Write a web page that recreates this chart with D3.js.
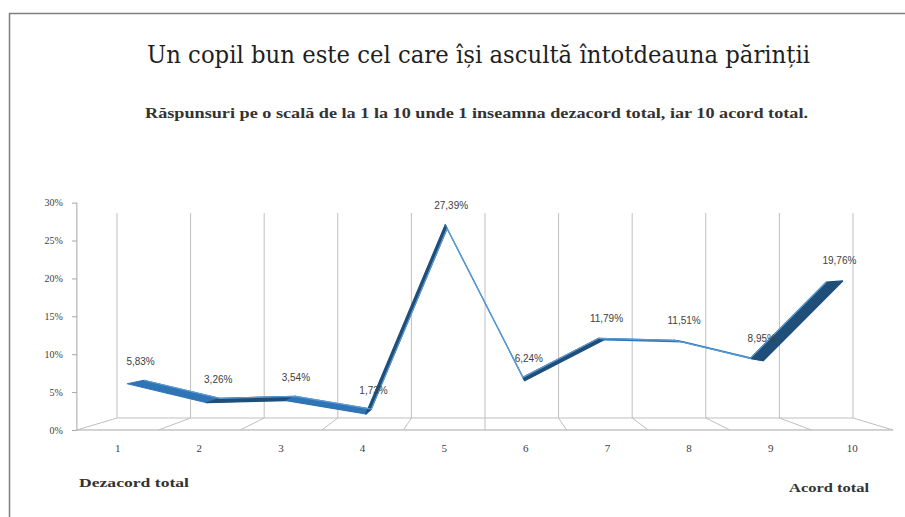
<!DOCTYPE html>
<html>
<head>
<meta charset="utf-8">
<script src="https://cdn.jsdelivr.net/npm/d3@7"></script>
<style>
  body { margin: 0; background: #fff; }
  svg { display: block; }
  .tick text { font-family: "Liberation Serif", serif; fill: #404040; }
</style>
</head>
<body>
<div id="chart"></div>
<script>
var categories = ["1", "2", "3", "4", "5", "6", "7", "8", "9", "10"];
var values = [5.83, 3.26, 3.54, 1.73, 27.39, 6.24, 11.79, 11.51, 8.95, 19.76];
var valueLabels = ["5,83%", "3,26%", "3,54%", "1,73%", "27,39%", "6,24%", "11,79%", "11,51%", "8,95%", "19,76%"];
var yTicks = [0, 5, 10, 15, 20, 25, 30];

var width = 905, height = 517;

var svg = d3.select("#chart").append("svg")
    .attr("width", width)
    .attr("height", height);

// outer frame (only top and left edges are visible in the picture)
svg.append("path")
    .attr("d", "M9.5,517 L9.5,13.5 L905,13.5")
    .attr("fill", "none")
    .attr("stroke", "#7f7f7f")
    .attr("stroke-width", 1.5);

// titles
svg.append("text")
    .attr("x", 147).attr("y", 63)
    .attr("textLength", 663).attr("lengthAdjust", "spacingAndGlyphs")
    .style("font-family", "'DejaVu Serif', serif")
    .style("font-size", "24px")
    .style("fill", "#1f1f1f")
    .text("Un copil bun este cel care își ascultă întotdeauna părinții");

svg.append("text")
    .attr("x", 145).attr("y", 118)
    .attr("textLength", 663).attr("lengthAdjust", "spacingAndGlyphs")
    .style("font-family", "'Liberation Serif', serif")
    .style("font-size", "14px")
    .style("font-weight", "bold")
    .style("fill", "#333")
    .text("Răspunsuri pe o scală de la 1 la 10 unde 1 inseamna dezacord total, iar 10 acord total.");

// 3d-ish perspective: back wall scales, then project toward the viewer
var VX = 485, VY = 308;         // vanishing centre
var FRONT = 1.109, MID1 = 1.03, MID2 = 1.08, MID = 1.055;

var xEdge = d3.scaleLinear().domain([0, categories.length]).range([117, 853]);
var xBack = d3.scaleBand().domain(categories).range([117, 853]);
var yBack = d3.scaleLinear().domain([0, 30]).range([418, 213]);

function proj(x, y, s) {
  return [VX + (x - VX) * s, VY + (y - VY) * s];
}

var grid = svg.append("g").attr("stroke", "#bfbfbf").attr("stroke-width", 1).attr("fill", "none");

// back wall verticals
grid.selectAll("line.v")
    .data(d3.range(0, categories.length + 1))
  .enter().append("line")
    .attr("x1", function(d) { return xEdge(d); })
    .attr("x2", function(d) { return xEdge(d); })
    .attr("y1", yBack(30))
    .attr("y2", yBack(0));

// floor: back line, front line and diagonals
grid.append("line")
    .attr("x1", xEdge(0)).attr("x2", xEdge(categories.length))
    .attr("y1", yBack(0)).attr("y2", yBack(0));

var f0 = proj(xEdge(0), yBack(0), FRONT), f1 = proj(xEdge(categories.length), yBack(0), FRONT);
grid.append("line")
    .attr("x1", f0[0]).attr("x2", f1[0])
    .attr("y1", f0[1]).attr("y2", f0[1])
    .attr("stroke", "#a6a6a6");

grid.selectAll("line.d")
    .data(d3.range(0, categories.length + 1))
  .enter().append("line")
    .attr("x1", function(d) { return xEdge(d); })
    .attr("y1", yBack(0))
    .attr("x2", function(d) { return proj(xEdge(d), yBack(0), FRONT)[0]; })
    .attr("y2", function(d) { return proj(xEdge(d), yBack(0), FRONT)[1]; });

// y axis on the front plane
var yFront = d3.scaleLinear().domain([0, 30])
    .range([proj(0, yBack(0), FRONT)[1], proj(0, yBack(30), FRONT)[1]]);

var yAxis = svg.append("g")
    .attr("transform", "translate(" + (f0[0]) + ",0)")
    .call(d3.axisLeft(yFront).tickValues(yTicks).tickSize(5).tickPadding(9)
      .tickFormat(function(d) { return d + "%"; }));
yAxis.selectAll("line, path").attr("stroke", "#a6a6a6");
yAxis.select(".domain").attr("d", "M0," + yFront(30) + "V" + yFront(0));
yAxis.selectAll("text").style("font-size", "10px");

// category axis on the front plane
var xFront = d3.scaleBand().domain(categories).range([f0[0], f1[0]]);
var xAxis = svg.append("g")
    .attr("transform", "translate(0," + (f0[1] + 8) + ")")
    .call(d3.axisBottom(xFront).tickSize(0).tickPadding(6));
xAxis.select(".domain").remove();
xAxis.selectAll("text").style("font-size", "11px");

// the line as a ribbon with depth
var pts = values.map(function(v, i) {
  var bx = xBack(categories[i]) + xBack.bandwidth() / 2, by = yBack(v);
  return { a: proj(bx, by, MID1), b: proj(bx, by, MID2), m: proj(bx, by, MID), v: v, i: i };
});

var segs = d3.pairs(pts);
svg.append("g").selectAll("path")
    .data(segs)
  .enter().append("path")
    .attr("d", function(d) {
      return "M" + d[0].a + "L" + d[1].a + "L" + d[1].b + "L" + d[0].b + "Z";
    })
    .attr("fill", function(d) { return d[1].v > d[0].v ? "#1f4e79" : "#2f75b5"; })
    .attr("stroke", function(d) { return d[1].v > d[0].v ? "#1f4e79" : "#2f75b5"; })
    .attr("stroke-width", 1.2)
    .attr("stroke-linejoin", "round");

svg.append("path")
    .datum(pts)
    .attr("d", d3.line().x(function(d) { return d.a[0]; }).y(function(d) { return d.a[1]; }))
    .attr("fill", "none")
    .attr("stroke", "#5b9bd5")
    .attr("stroke-width", 1.2);

// data labels
svg.append("g").selectAll("text")
    .data(pts)
  .enter().append("text")
    .attr("x", function(d) { return d.m[0] + 5; })
    .attr("y", function(d) { return d.m[1] - 20; })
    .attr("text-anchor", "middle")
    .attr("dominant-baseline", "middle")
    .style("font-family", "'Liberation Sans', sans-serif")
    .style("font-size", "10px")
    .style("fill", "#404040")
    .text(function(d) { return valueLabels[d.i]; });

// scale end notes
svg.append("text")
    .attr("x", 79).attr("y", 487)
    .attr("textLength", 110).attr("lengthAdjust", "spacingAndGlyphs")
    .style("font-family", "'Liberation Serif', serif")
    .style("font-size", "13px").style("font-weight", "bold")
    .style("fill", "#333")
    .text("Dezacord total");

svg.append("text")
    .attr("x", 789).attr("y", 492)
    .attr("textLength", 80).attr("lengthAdjust", "spacingAndGlyphs")
    .style("font-family", "'Liberation Serif', serif")
    .style("font-size", "13px").style("font-weight", "bold")
    .style("fill", "#333")
    .text("Acord total");
</script>
</body>
</html>
